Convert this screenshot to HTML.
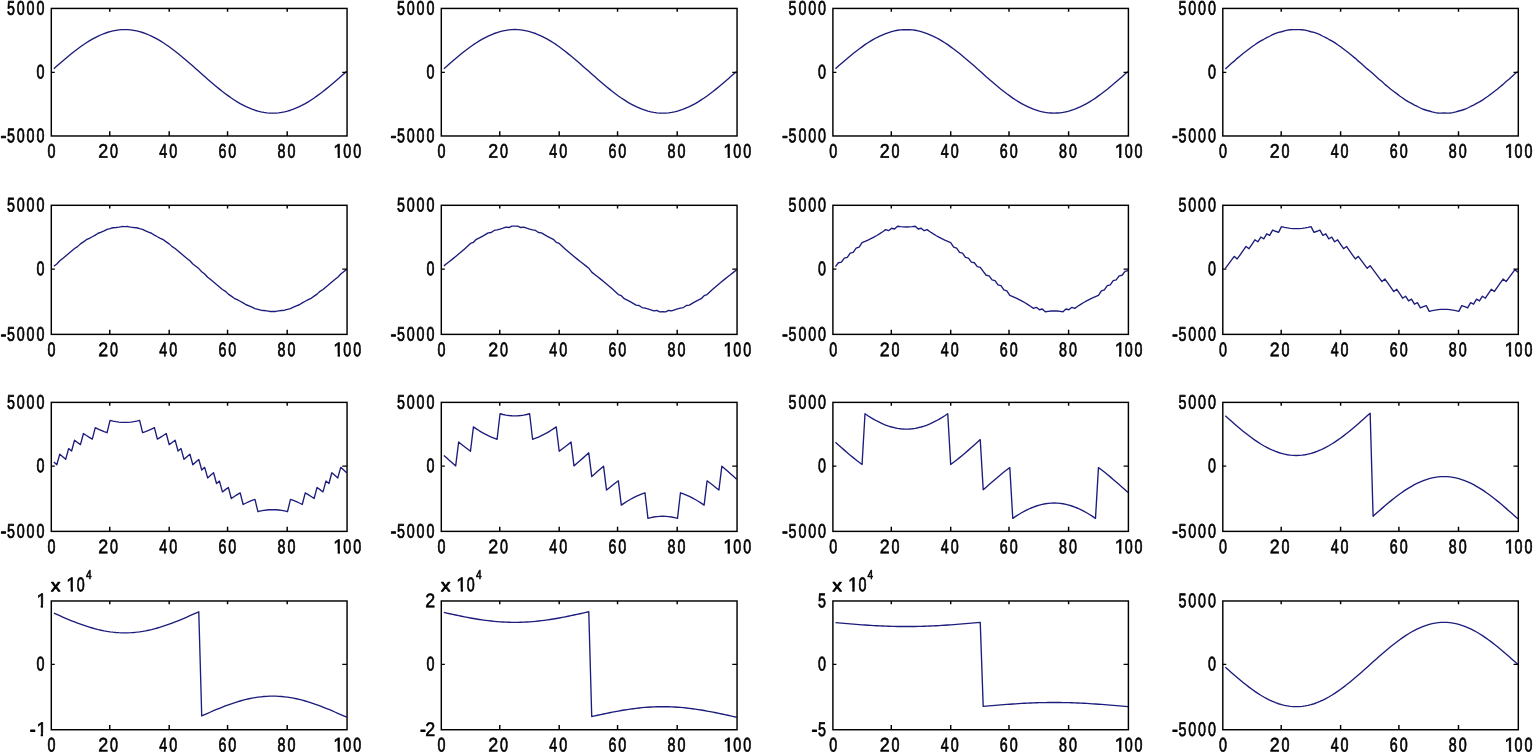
<!DOCTYPE html>
<html><head><meta charset="utf-8"><title>Subplots</title>
<style>
html,body{margin:0;padding:0;background:#fff;}
body{width:1533px;height:752px;overflow:hidden;}
svg{display:block;will-change:transform;}
svg text{font-family:"Liberation Sans",sans-serif;fill:#000;stroke:#000;stroke-width:0.62px;stroke-linejoin:round;vector-effect:non-scaling-stroke;white-space:pre;}
</style></head><body>
<svg width="1533" height="752" viewBox="0 0 1533 752">
<defs><clipPath id="c0"><path clip-rule="evenodd" d="M-9,-20H60V8H-9ZM-0.18,-2.1H4.33V1H-0.18ZM6.64,-2.1H10.7V1H6.64Z"/></clipPath><clipPath id="c1"><path clip-rule="evenodd" d="M-9,-20H60V8H-9ZM-0.18,-2.1H4.33V1H-0.18ZM6.64,-2.1H10.7V1H6.64Z"/></clipPath><clipPath id="c2"><path clip-rule="evenodd" d="M-9,-20H60V8H-9ZM6.42,-2.1H10.93V1H6.42ZM13.24,-2.1H17.3V1H13.24Z"/></clipPath><clipPath id="c3"><path clip-rule="evenodd" d="M-9,-20H60V8H-9ZM15.26,-2.1H19.77V1H15.26ZM22.08,-2.1H26.14V1H22.08Z"/></clipPath></defs>
<rect width="1533" height="752" fill="#fff"/>
<polyline fill="none" stroke="#1c1c7c" stroke-width="1.35" stroke-linejoin="round" points="53.86,68.75 56.81,66.11 59.77,63.55 62.73,60.96 65.69,58.43 68.64,55.96 71.6,53.57 74.56,51.21 77.52,48.98 80.47,46.81 83.43,44.71 86.39,42.76 89.35,40.88 92.3,39.15 95.26,37.54 98.22,36.06 101.18,34.75 104.13,33.54 107.09,32.49 110.05,31.6 113.01,30.9 115.96,30.3 118.92,29.89 121.88,29.63 124.84,29.56 127.79,29.63 130.75,29.89 133.71,30.3 136.67,30.9 139.62,31.6 142.58,32.49 145.54,33.54 148.5,34.75 151.46,36.06 154.41,37.54 157.37,39.15 160.33,40.88 163.28,42.76 166.24,44.71 169.2,46.81 172.16,48.98 175.11,51.21 178.07,53.57 181.03,55.96 183.99,58.43 186.94,60.96 189.9,63.55 192.86,66.11 195.82,68.75 198.78,71.34 201.73,73.97 204.69,76.61 207.65,79.17 210.6,81.76 213.56,84.29 216.52,86.76 219.48,89.15 222.43,91.51 225.39,93.74 228.35,95.91 231.31,98.01 234.27,99.96 237.22,101.84 240.18,103.57 243.14,105.18 246.09,106.66 249.05,107.97 252.01,109.19 254.97,110.23 257.93,111.13 260.88,111.83 263.84,112.43 266.8,112.83 269.75,113.09 272.71,113.17 275.67,113.09 278.63,112.83 281.59,112.43 284.54,111.83 287.5,111.13 290.46,110.23 293.42,109.19 296.37,107.97 299.33,106.66 302.29,105.18 305.25,103.57 308.2,101.84 311.16,99.96 314.12,98.01 317.08,95.91 320.03,93.74 322.99,91.51 325.95,89.15 328.91,86.76 331.86,84.29 334.82,81.76 337.78,79.17 340.74,76.61 343.69,73.97 346.65,71.38"/>
<rect x="51.3" y="8.43" width="295.75" height="127.55" fill="none" stroke="#000" stroke-width="1.45"/>
<path d="M109.75,135.98v-4.7M109.75,8.43v3.3M169.2,135.98v-4.7M169.2,8.43v3.3M227.55,135.98v-4.7M227.55,8.43v3.3M287.2,135.98v-4.7M287.2,8.43v3.3" stroke="#000" stroke-width="1.45" fill="none"/>
<path d="M51.3,72.36h3.5M347.05,72.36h-4.8" stroke="#000" stroke-width="1.3" fill="none"/>
<text transform="translate(47.53,157.84) scale(1,1.3827) rotate(0.03)" x="0" y="0" font-size="14.3">0</text>
<text transform="translate(98.31,157.84) scale(1,1.3827) rotate(0.03)" x="0 11.75" y="0" font-size="14.3"><tspan textLength="9.94" lengthAdjust="spacingAndGlyphs" stroke-width="0.4">2</tspan>0</text>
<text transform="translate(159.26,157.84) scale(1,1.3827) rotate(0.03)" x="0 9.95" y="0" font-size="14.3">40</text>
<text transform="translate(218.41,157.84) scale(1,1.3827) rotate(0.03)" x="0 9.95" y="0" font-size="14.3">60</text>
<text transform="translate(277.56,157.84) scale(1,1.3827) rotate(0.03)" x="0 9.95" y="0" font-size="14.3">80</text>
<text transform="translate(333.33,157.84) scale(1,1.3827) rotate(0.03)" x="0 9.95 19.9" y="0" font-size="14.3" clip-path="url(#c0)"><tspan textLength="10.34" lengthAdjust="spacingAndGlyphs" stroke-width="0.45">1</tspan>00</text>
<text transform="translate(7,14.69) scale(1,1.3827) rotate(0.03)" x="0 9.8 19.6 29.4" y="0" font-size="14.3">5000</text>
<text transform="translate(36.4,78.52) scale(1,1.3827) rotate(0.03)" x="0" y="0" font-size="14.3">0</text>
<text transform="translate(0.4,142.24) scale(1,1.3827) rotate(0.03)" x="0 6.6 16.4 26.2 36" y="0" font-size="14.3"><tspan textLength="5.95" lengthAdjust="spacingAndGlyphs">-</tspan>5000</text>
<polyline fill="none" stroke="#1c1c7c" stroke-width="1.35" stroke-linejoin="round" points="443.86,68.73 446.82,66.14 449.77,63.52 452.73,60.99 455.69,58.41 458.65,55.99 461.6,53.6 464.56,51.24 467.52,49.01 470.48,46.79 473.43,44.68 476.39,42.78 479.35,40.86 482.31,39.12 485.26,37.57 488.22,36.09 491.18,34.77 494.14,33.51 497.09,32.52 500.05,31.57 503.01,30.87 505.97,30.32 508.92,29.91 511.88,29.66 514.84,29.53 517.79,29.66 520.75,29.91 523.71,30.32 526.67,30.87 529.62,31.57 532.58,32.52 535.54,33.51 538.5,34.77 541.46,36.09 544.41,37.57 547.37,39.12 550.33,40.86 553.28,42.78 556.24,44.68 559.2,46.79 562.16,49.01 565.12,51.24 568.07,53.6 571.03,55.99 573.99,58.41 576.95,60.99 579.9,63.52 582.86,66.14 585.82,68.73 588.77,71.32 591.73,74 594.69,76.58 597.65,79.2 600.61,81.74 603.56,84.31 606.52,86.74 609.48,89.12 612.44,91.48 615.39,93.71 618.35,95.93 621.31,98.04 624.26,99.94 627.22,101.86 630.18,103.6 633.14,105.16 636.1,106.64 639.05,107.95 642.01,109.21 644.97,110.21 647.93,111.15 650.88,111.85 653.84,112.4 656.8,112.81 659.75,113.06 662.71,113.19 665.67,113.06 668.63,112.81 671.59,112.4 674.54,111.85 677.5,111.15 680.46,110.21 683.41,109.21 686.37,107.95 689.33,106.64 692.29,105.16 695.25,103.6 698.2,101.86 701.16,99.94 704.12,98.04 707.07,95.93 710.03,93.71 712.99,91.48 715.95,89.12 718.9,86.74 721.86,84.31 724.82,81.74 727.78,79.2 730.74,76.58 733.69,74 736.65,71.41"/>
<rect x="441.3" y="8.43" width="295.75" height="127.55" fill="none" stroke="#000" stroke-width="1.45"/>
<path d="M499.75,135.98v-4.7M499.75,8.43v3.3M559.2,135.98v-4.7M559.2,8.43v3.3M617.55,135.98v-4.7M617.55,8.43v3.3M677.2,135.98v-4.7M677.2,8.43v3.3" stroke="#000" stroke-width="1.45" fill="none"/>
<path d="M441.3,72.36h3.5M737.05,72.36h-4.8" stroke="#000" stroke-width="1.3" fill="none"/>
<text transform="translate(437.53,157.84) scale(1,1.3827) rotate(0.03)" x="0" y="0" font-size="14.3">0</text>
<text transform="translate(488.31,157.84) scale(1,1.3827) rotate(0.03)" x="0 11.75" y="0" font-size="14.3"><tspan textLength="9.94" lengthAdjust="spacingAndGlyphs" stroke-width="0.4">2</tspan>0</text>
<text transform="translate(549.26,157.84) scale(1,1.3827) rotate(0.03)" x="0 9.95" y="0" font-size="14.3">40</text>
<text transform="translate(608.41,157.84) scale(1,1.3827) rotate(0.03)" x="0 9.95" y="0" font-size="14.3">60</text>
<text transform="translate(667.56,157.84) scale(1,1.3827) rotate(0.03)" x="0 9.95" y="0" font-size="14.3">80</text>
<text transform="translate(723.33,157.84) scale(1,1.3827) rotate(0.03)" x="0 9.95 19.9" y="0" font-size="14.3" clip-path="url(#c0)"><tspan textLength="10.34" lengthAdjust="spacingAndGlyphs" stroke-width="0.45">1</tspan>00</text>
<text transform="translate(397,14.69) scale(1,1.3827) rotate(0.03)" x="0 9.8 19.6 29.4" y="0" font-size="14.3">5000</text>
<text transform="translate(426.4,78.52) scale(1,1.3827) rotate(0.03)" x="0" y="0" font-size="14.3">0</text>
<text transform="translate(390.4,142.24) scale(1,1.3827) rotate(0.03)" x="0 6.6 16.4 26.2 36" y="0" font-size="14.3"><tspan textLength="5.95" lengthAdjust="spacingAndGlyphs">-</tspan>5000</text>
<polyline fill="none" stroke="#1c1c7c" stroke-width="1.35" stroke-linejoin="round" points="835.46,68.78 838.41,66.09 841.37,63.57 844.32,61.04 847.27,58.46 850.23,56.04 853.19,53.55 856.14,51.19 859.1,48.96 862.05,46.84 865,44.63 867.96,42.73 870.91,40.91 873.87,39.17 876.83,37.52 879.78,36.14 882.74,34.82 885.69,33.56 888.64,32.57 891.6,31.62 894.56,30.92 897.51,30.27 900.47,29.86 903.42,29.71 906.38,29.58 909.33,29.71 912.28,29.86 915.24,30.27 918.2,30.92 921.15,31.62 924.11,32.57 927.06,33.56 930.01,34.82 932.97,36.14 935.93,37.52 938.88,39.17 941.84,40.91 944.79,42.73 947.75,44.63 950.7,46.84 953.66,48.96 956.61,51.19 959.57,53.55 962.52,56.04 965.48,58.46 968.43,61.04 971.39,63.57 974.34,66.09 977.3,68.78 980.25,71.27 983.21,73.94 986.16,76.64 989.12,79.15 992.07,81.69 995.03,84.26 997.98,86.69 1000.94,89.17 1003.89,91.53 1006.85,93.77 1009.8,95.88 1012.76,98.09 1015.71,99.99 1018.67,101.81 1021.62,103.55 1024.58,105.21 1027.53,106.58 1030.48,107.9 1033.44,109.16 1036.39,110.16 1039.35,111.1 1042.3,111.8 1045.26,112.45 1048.21,112.86 1051.17,113.01 1054.12,113.14 1057.08,113.01 1060.03,112.86 1062.99,112.45 1065.94,111.8 1068.9,111.1 1071.86,110.16 1074.81,109.16 1077.76,107.9 1080.72,106.58 1083.67,105.21 1086.63,103.55 1089.59,101.81 1092.54,99.99 1095.49,98.09 1098.45,95.88 1101.4,93.77 1104.36,91.53 1107.32,89.17 1110.27,86.69 1113.22,84.26 1116.18,81.69 1119.13,79.15 1122.09,76.64 1125.05,73.94 1128,71.46"/>
<rect x="832.9" y="8.43" width="295.5" height="127.55" fill="none" stroke="#000" stroke-width="1.45"/>
<path d="M891.3,135.98v-4.7M891.3,8.43v3.3M950.7,135.98v-4.7M950.7,8.43v3.3M1009,135.98v-4.7M1009,8.43v3.3M1068.6,135.98v-4.7M1068.6,8.43v3.3" stroke="#000" stroke-width="1.45" fill="none"/>
<path d="M832.9,72.36h3.5M1128.4,72.36h-4.8" stroke="#000" stroke-width="1.3" fill="none"/>
<text transform="translate(829.13,157.84) scale(1,1.3827) rotate(0.03)" x="0" y="0" font-size="14.3">0</text>
<text transform="translate(879.86,157.84) scale(1,1.3827) rotate(0.03)" x="0 11.75" y="0" font-size="14.3"><tspan textLength="9.94" lengthAdjust="spacingAndGlyphs" stroke-width="0.4">2</tspan>0</text>
<text transform="translate(940.76,157.84) scale(1,1.3827) rotate(0.03)" x="0 9.95" y="0" font-size="14.3">40</text>
<text transform="translate(999.86,157.84) scale(1,1.3827) rotate(0.03)" x="0 9.95" y="0" font-size="14.3">60</text>
<text transform="translate(1058.96,157.84) scale(1,1.3827) rotate(0.03)" x="0 9.95" y="0" font-size="14.3">80</text>
<text transform="translate(1114.68,157.84) scale(1,1.3827) rotate(0.03)" x="0 9.95 19.9" y="0" font-size="14.3" clip-path="url(#c0)"><tspan textLength="10.34" lengthAdjust="spacingAndGlyphs" stroke-width="0.45">1</tspan>00</text>
<text transform="translate(788.6,14.69) scale(1,1.3827) rotate(0.03)" x="0 9.8 19.6 29.4" y="0" font-size="14.3">5000</text>
<text transform="translate(818,78.52) scale(1,1.3827) rotate(0.03)" x="0" y="0" font-size="14.3">0</text>
<text transform="translate(782,142.24) scale(1,1.3827) rotate(0.03)" x="0 6.6 16.4 26.2 36" y="0" font-size="14.3"><tspan textLength="5.95" lengthAdjust="spacingAndGlyphs">-</tspan>5000</text>
<polyline fill="none" stroke="#1c1c7c" stroke-width="1.35" stroke-linejoin="round" points="1225.35,68.88 1228.31,66.19 1231.26,63.47 1234.22,61.14 1237.17,58.36 1240.13,55.93 1243.08,53.45 1246.04,51.29 1248.99,49.06 1251.95,46.74 1254.9,44.74 1257.86,42.63 1260.81,40.81 1263.77,39.28 1266.72,37.62 1269.68,36.24 1272.63,34.72 1275.59,33.46 1278.54,32.47 1281.5,31.73 1284.45,30.82 1287.41,30.17 1290.36,29.76 1293.32,29.61 1296.27,29.68 1299.23,29.61 1302.18,29.76 1305.14,30.17 1308.09,30.82 1311.05,31.73 1314,32.47 1316.96,33.46 1319.91,34.72 1322.87,36.24 1325.82,37.62 1328.78,39.28 1331.73,40.81 1334.69,42.63 1337.64,44.74 1340.6,46.74 1343.55,49.06 1346.51,51.29 1349.46,53.45 1352.42,55.93 1355.37,58.36 1358.33,61.14 1361.28,63.47 1364.24,66.19 1367.19,68.88 1370.15,71.16 1373.1,73.84 1376.06,76.53 1379.01,79.25 1381.97,81.58 1384.92,84.37 1387.88,86.79 1390.83,89.28 1393.79,91.43 1396.74,93.66 1399.7,95.98 1402.65,97.99 1405.61,100.09 1408.56,101.92 1411.52,103.45 1414.47,105.1 1417.43,106.48 1420.38,108 1423.34,109.26 1426.29,110.26 1429.25,111 1432.2,111.9 1435.16,112.55 1438.11,112.96 1441.07,113.11 1444.02,113.04 1446.98,113.11 1449.93,112.96 1452.89,112.55 1455.84,111.9 1458.8,111 1461.75,110.26 1464.71,109.26 1467.66,108 1470.62,106.48 1473.57,105.1 1476.53,103.45 1479.48,101.92 1482.44,100.09 1485.39,97.99 1488.35,95.98 1491.3,93.66 1494.26,91.43 1497.21,89.28 1500.17,86.79 1503.12,84.37 1506.08,81.58 1509.03,79.25 1511.99,76.53 1514.94,73.84 1517.9,71.56"/>
<rect x="1222.8" y="8.43" width="295.5" height="127.55" fill="none" stroke="#000" stroke-width="1.45"/>
<path d="M1281.2,135.98v-4.7M1281.2,8.43v3.3M1340.6,135.98v-4.7M1340.6,8.43v3.3M1398.9,135.98v-4.7M1398.9,8.43v3.3M1458.5,135.98v-4.7M1458.5,8.43v3.3" stroke="#000" stroke-width="1.45" fill="none"/>
<path d="M1222.8,72.36h3.5M1518.3,72.36h-4.8" stroke="#000" stroke-width="1.3" fill="none"/>
<text transform="translate(1219.03,157.84) scale(1,1.3827) rotate(0.03)" x="0" y="0" font-size="14.3">0</text>
<text transform="translate(1269.76,157.84) scale(1,1.3827) rotate(0.03)" x="0 11.75" y="0" font-size="14.3"><tspan textLength="9.94" lengthAdjust="spacingAndGlyphs" stroke-width="0.4">2</tspan>0</text>
<text transform="translate(1330.66,157.84) scale(1,1.3827) rotate(0.03)" x="0 9.95" y="0" font-size="14.3">40</text>
<text transform="translate(1389.76,157.84) scale(1,1.3827) rotate(0.03)" x="0 9.95" y="0" font-size="14.3">60</text>
<text transform="translate(1448.86,157.84) scale(1,1.3827) rotate(0.03)" x="0 9.95" y="0" font-size="14.3">80</text>
<text transform="translate(1504.58,157.84) scale(1,1.3827) rotate(0.03)" x="0 9.95 19.9" y="0" font-size="14.3" clip-path="url(#c0)"><tspan textLength="10.34" lengthAdjust="spacingAndGlyphs" stroke-width="0.45">1</tspan>00</text>
<text transform="translate(1178.5,14.69) scale(1,1.3827) rotate(0.03)" x="0 9.8 19.6 29.4" y="0" font-size="14.3">5000</text>
<text transform="translate(1207.9,78.52) scale(1,1.3827) rotate(0.03)" x="0" y="0" font-size="14.3">0</text>
<text transform="translate(1171.9,142.24) scale(1,1.3827) rotate(0.03)" x="0 6.6 16.4 26.2 36" y="0" font-size="14.3"><tspan textLength="5.95" lengthAdjust="spacingAndGlyphs">-</tspan>5000</text>
<polyline fill="none" stroke="#1c1c7c" stroke-width="1.35" stroke-linejoin="round" points="53.86,266.28 56.81,263.97 59.77,260.81 62.73,258.44 65.69,256.04 68.64,253.59 71.6,251.07 74.56,248.48 77.52,246.63 80.47,243.87 83.43,241.84 86.39,239.71 89.35,238.28 92.3,236.73 95.26,235.05 98.22,233.25 101.18,232.12 104.13,230.85 107.09,229.43 110.05,228.68 113.01,227.76 115.96,227.52 118.92,227.1 121.88,226.54 124.84,226.61 127.79,226.54 130.75,227.1 133.71,227.52 136.67,227.76 139.62,228.68 142.58,229.43 145.54,230.85 148.5,232.12 151.46,233.25 154.41,235.05 157.37,236.73 160.33,238.28 163.28,239.71 166.24,241.84 169.2,243.87 172.16,246.63 175.11,248.48 178.07,251.07 181.03,253.59 183.99,256.04 186.94,258.44 189.9,260.81 192.86,263.97 195.82,266.28 198.78,268.59 201.73,271.71 204.69,274.02 207.65,277.19 210.6,279.55 213.56,281.95 216.52,284.4 219.48,286.92 222.43,289.51 225.39,291.36 228.35,294.12 231.31,296.15 234.27,298.28 237.22,299.71 240.18,301.26 243.14,302.94 246.09,304.75 249.05,305.87 252.01,307.15 254.97,308.57 257.93,309.31 260.88,310.23 263.84,310.48 266.8,310.89 269.75,311.46 272.71,311.38 275.67,311.46 278.63,310.89 281.59,310.48 284.54,310.23 287.5,309.31 290.46,308.57 293.42,307.15 296.37,305.87 299.33,304.75 302.29,302.94 305.25,301.26 308.2,299.71 311.16,298.28 314.12,296.15 317.08,294.12 320.03,291.36 322.99,289.51 325.95,286.92 328.91,284.4 331.86,281.95 334.82,279.55 337.78,277.19 340.74,274.02 343.69,271.71 346.65,269.4"/>
<rect x="51.3" y="205.3" width="295.75" height="129.08" fill="none" stroke="#000" stroke-width="1.45"/>
<path d="M109.75,334.38v-4.7M109.75,205.3v3.3M169.2,334.38v-4.7M169.2,205.3v3.3M227.55,334.38v-4.7M227.55,205.3v3.3M287.2,334.38v-4.7M287.2,205.3v3.3" stroke="#000" stroke-width="1.45" fill="none"/>
<path d="M51.3,269.14h3.5M347.05,269.14h-4.8" stroke="#000" stroke-width="1.3" fill="none"/>
<text transform="translate(47.53,356.24) scale(1,1.3827) rotate(0.03)" x="0" y="0" font-size="14.3">0</text>
<text transform="translate(98.31,356.24) scale(1,1.3827) rotate(0.03)" x="0 11.75" y="0" font-size="14.3"><tspan textLength="9.94" lengthAdjust="spacingAndGlyphs" stroke-width="0.4">2</tspan>0</text>
<text transform="translate(159.26,356.24) scale(1,1.3827) rotate(0.03)" x="0 9.95" y="0" font-size="14.3">40</text>
<text transform="translate(218.41,356.24) scale(1,1.3827) rotate(0.03)" x="0 9.95" y="0" font-size="14.3">60</text>
<text transform="translate(277.56,356.24) scale(1,1.3827) rotate(0.03)" x="0 9.95" y="0" font-size="14.3">80</text>
<text transform="translate(333.33,356.24) scale(1,1.3827) rotate(0.03)" x="0 9.95 19.9" y="0" font-size="14.3" clip-path="url(#c0)"><tspan textLength="10.34" lengthAdjust="spacingAndGlyphs" stroke-width="0.45">1</tspan>00</text>
<text transform="translate(7,211.56) scale(1,1.3827) rotate(0.03)" x="0 9.8 19.6 29.4" y="0" font-size="14.3">5000</text>
<text transform="translate(36.4,275.3) scale(1,1.3827) rotate(0.03)" x="0" y="0" font-size="14.3">0</text>
<text transform="translate(0.4,340.64) scale(1,1.3827) rotate(0.03)" x="0 6.6 16.4 26.2 36" y="0" font-size="14.3"><tspan textLength="5.95" lengthAdjust="spacingAndGlyphs">-</tspan>5000</text>
<polyline fill="none" stroke="#1c1c7c" stroke-width="1.35" stroke-linejoin="round" points="443.86,265.87 446.82,263.56 449.77,261.22 452.73,258.86 455.69,256.46 458.65,254 461.6,251.49 464.56,248.89 467.52,246.22 470.48,243.46 473.43,242.26 476.39,239.3 479.35,237.87 482.31,236.32 485.26,234.64 488.22,232.83 491.18,232.54 494.14,230.43 497.09,229.84 500.05,229.09 503.01,228.17 505.97,227.1 508.92,227.52 511.88,226.12 514.84,226.2 517.79,226.12 520.75,227.52 523.71,227.1 526.67,228.17 529.62,229.09 532.58,229.84 535.54,230.43 538.5,232.54 541.46,232.83 544.41,234.64 547.37,236.32 550.33,237.87 553.28,239.3 556.24,242.26 559.2,243.46 562.16,246.22 565.12,248.89 568.07,251.49 571.03,254 573.99,256.46 576.95,258.86 579.9,261.22 582.86,263.56 585.82,265.87 588.77,268.18 591.73,272.13 594.69,274.44 597.65,276.77 600.61,279.14 603.56,281.54 606.52,283.99 609.48,286.51 612.44,289.1 615.39,291.77 618.35,294.53 621.31,295.74 624.26,298.69 627.22,300.12 630.18,301.67 633.14,303.35 636.1,305.16 639.05,305.46 642.01,307.56 644.97,308.15 647.93,308.9 650.88,309.82 653.84,310.89 656.8,310.48 659.75,311.87 662.71,311.79 665.67,311.87 668.63,310.48 671.59,310.89 674.54,309.82 677.5,308.9 680.46,308.15 683.41,307.56 686.37,305.46 689.33,305.16 692.29,303.35 695.25,301.67 698.2,300.12 701.16,298.69 704.12,295.74 707.07,294.53 710.03,291.77 712.99,289.1 715.95,286.51 718.9,283.99 721.86,281.54 724.82,279.14 727.78,276.77 730.74,274.44 733.69,272.13 736.65,269.82"/>
<rect x="441.3" y="205.3" width="295.75" height="129.08" fill="none" stroke="#000" stroke-width="1.45"/>
<path d="M499.75,334.38v-4.7M499.75,205.3v3.3M559.2,334.38v-4.7M559.2,205.3v3.3M617.55,334.38v-4.7M617.55,205.3v3.3M677.2,334.38v-4.7M677.2,205.3v3.3" stroke="#000" stroke-width="1.45" fill="none"/>
<path d="M441.3,269.14h3.5M737.05,269.14h-4.8" stroke="#000" stroke-width="1.3" fill="none"/>
<text transform="translate(437.53,356.24) scale(1,1.3827) rotate(0.03)" x="0" y="0" font-size="14.3">0</text>
<text transform="translate(488.31,356.24) scale(1,1.3827) rotate(0.03)" x="0 11.75" y="0" font-size="14.3"><tspan textLength="9.94" lengthAdjust="spacingAndGlyphs" stroke-width="0.4">2</tspan>0</text>
<text transform="translate(549.26,356.24) scale(1,1.3827) rotate(0.03)" x="0 9.95" y="0" font-size="14.3">40</text>
<text transform="translate(608.41,356.24) scale(1,1.3827) rotate(0.03)" x="0 9.95" y="0" font-size="14.3">60</text>
<text transform="translate(667.56,356.24) scale(1,1.3827) rotate(0.03)" x="0 9.95" y="0" font-size="14.3">80</text>
<text transform="translate(723.33,356.24) scale(1,1.3827) rotate(0.03)" x="0 9.95 19.9" y="0" font-size="14.3" clip-path="url(#c0)"><tspan textLength="10.34" lengthAdjust="spacingAndGlyphs" stroke-width="0.45">1</tspan>00</text>
<text transform="translate(397,211.56) scale(1,1.3827) rotate(0.03)" x="0 9.8 19.6 29.4" y="0" font-size="14.3">5000</text>
<text transform="translate(426.4,275.3) scale(1,1.3827) rotate(0.03)" x="0" y="0" font-size="14.3">0</text>
<text transform="translate(390.4,340.64) scale(1,1.3827) rotate(0.03)" x="0 6.6 16.4 26.2 36" y="0" font-size="14.3"><tspan textLength="5.95" lengthAdjust="spacingAndGlyphs">-</tspan>5000</text>
<polyline fill="none" stroke="#1c1c7c" stroke-width="1.35" stroke-linejoin="round" points="835.46,266.69 838.41,262.73 841.37,262.05 844.32,258.03 847.27,257.28 850.23,253.18 853.19,252.31 856.14,248.07 859.1,247.05 862.05,242.63 865,241.43 867.96,240.13 870.91,238.69 873.87,237.15 876.83,235.47 879.78,233.66 882.74,231.71 885.69,229.61 888.64,230.67 891.6,228.27 894.56,229 897.51,226.28 900.47,226.69 903.42,226.95 906.38,227.03 909.33,226.95 912.28,226.69 915.24,226.28 918.2,229 921.15,228.27 924.11,230.67 927.06,229.61 930.01,231.71 932.97,233.66 935.93,235.47 938.88,237.15 941.84,238.69 944.79,240.13 947.75,241.43 950.7,242.63 953.66,247.05 956.61,248.07 959.57,252.31 962.52,253.18 965.48,257.28 968.43,258.03 971.39,262.05 974.34,262.73 977.3,266.69 980.25,267.35 983.21,271.3 986.16,275.26 989.12,275.95 992.07,279.96 995.03,280.71 997.98,284.82 1000.94,285.68 1003.89,289.93 1006.85,290.95 1009.8,295.36 1012.76,296.56 1015.71,297.87 1018.67,299.3 1021.62,300.85 1024.58,302.52 1027.53,304.33 1030.48,306.28 1033.44,308.39 1036.39,307.33 1039.35,309.73 1042.3,308.99 1045.26,311.72 1048.21,311.3 1051.17,311.04 1054.12,310.97 1057.08,311.04 1060.03,311.3 1062.99,311.72 1065.94,308.99 1068.9,309.73 1071.86,307.33 1074.81,308.39 1077.76,306.28 1080.72,304.33 1083.67,302.52 1086.63,300.85 1089.59,299.3 1092.54,297.87 1095.49,296.56 1098.45,295.36 1101.4,290.95 1104.36,289.93 1107.32,285.68 1110.27,284.82 1113.22,280.71 1116.18,279.96 1119.13,275.95 1122.09,275.26 1125.05,271.3 1128,270.64"/>
<rect x="832.9" y="205.3" width="295.5" height="129.08" fill="none" stroke="#000" stroke-width="1.45"/>
<path d="M891.3,334.38v-4.7M891.3,205.3v3.3M950.7,334.38v-4.7M950.7,205.3v3.3M1009,334.38v-4.7M1009,205.3v3.3M1068.6,334.38v-4.7M1068.6,205.3v3.3" stroke="#000" stroke-width="1.45" fill="none"/>
<path d="M832.9,269.14h3.5M1128.4,269.14h-4.8" stroke="#000" stroke-width="1.3" fill="none"/>
<text transform="translate(829.13,356.24) scale(1,1.3827) rotate(0.03)" x="0" y="0" font-size="14.3">0</text>
<text transform="translate(879.86,356.24) scale(1,1.3827) rotate(0.03)" x="0 11.75" y="0" font-size="14.3"><tspan textLength="9.94" lengthAdjust="spacingAndGlyphs" stroke-width="0.4">2</tspan>0</text>
<text transform="translate(940.76,356.24) scale(1,1.3827) rotate(0.03)" x="0 9.95" y="0" font-size="14.3">40</text>
<text transform="translate(999.86,356.24) scale(1,1.3827) rotate(0.03)" x="0 9.95" y="0" font-size="14.3">60</text>
<text transform="translate(1058.96,356.24) scale(1,1.3827) rotate(0.03)" x="0 9.95" y="0" font-size="14.3">80</text>
<text transform="translate(1114.68,356.24) scale(1,1.3827) rotate(0.03)" x="0 9.95 19.9" y="0" font-size="14.3" clip-path="url(#c0)"><tspan textLength="10.34" lengthAdjust="spacingAndGlyphs" stroke-width="0.45">1</tspan>00</text>
<text transform="translate(788.6,211.56) scale(1,1.3827) rotate(0.03)" x="0 9.8 19.6 29.4" y="0" font-size="14.3">5000</text>
<text transform="translate(818,275.3) scale(1,1.3827) rotate(0.03)" x="0" y="0" font-size="14.3">0</text>
<text transform="translate(782,340.64) scale(1,1.3827) rotate(0.03)" x="0 6.6 16.4 26.2 36" y="0" font-size="14.3"><tspan textLength="5.95" lengthAdjust="spacingAndGlyphs">-</tspan>5000</text>
<polyline fill="none" stroke="#1c1c7c" stroke-width="1.35" stroke-linejoin="round" points="1225.35,268.34 1228.31,264.38 1231.26,260.39 1234.22,256.38 1237.17,258.93 1240.13,254.83 1243.08,250.66 1246.04,246.41 1248.99,248.7 1251.95,244.28 1254.9,239.78 1257.86,241.78 1260.81,237.04 1263.77,238.8 1266.72,233.82 1269.68,235.31 1272.63,230.06 1275.59,231.26 1278.54,232.32 1281.5,226.61 1284.45,227.35 1287.41,227.93 1290.36,228.34 1293.32,228.6 1296.27,228.68 1299.23,228.6 1302.18,228.34 1305.14,227.93 1308.09,227.35 1311.05,226.61 1314,232.32 1316.96,231.26 1319.91,230.06 1322.87,235.31 1325.82,233.82 1328.78,238.8 1331.73,237.04 1334.69,241.78 1337.64,239.78 1340.6,244.28 1343.55,248.7 1346.51,246.41 1349.46,250.66 1352.42,254.83 1355.37,258.93 1358.33,256.38 1361.28,260.39 1364.24,264.38 1367.19,268.34 1370.15,265.7 1373.1,269.65 1376.06,273.61 1379.01,277.6 1381.97,281.61 1384.92,279.06 1387.88,283.16 1390.83,287.33 1393.79,291.58 1396.74,289.29 1399.7,293.71 1402.65,298.21 1405.61,296.21 1408.56,300.95 1411.52,299.19 1414.47,304.18 1417.43,302.68 1420.38,307.93 1423.34,306.73 1426.29,305.67 1429.25,311.38 1432.2,310.64 1435.16,310.06 1438.11,309.65 1441.07,309.39 1444.02,309.31 1446.98,309.39 1449.93,309.65 1452.89,310.06 1455.84,310.64 1458.8,311.38 1461.75,305.67 1464.71,306.73 1467.66,307.93 1470.62,302.68 1473.57,304.18 1476.53,299.19 1479.48,300.95 1482.44,296.21 1485.39,298.21 1488.35,293.71 1491.3,289.29 1494.26,291.58 1497.21,287.33 1500.17,283.16 1503.12,279.06 1506.08,281.61 1509.03,277.6 1511.99,273.61 1514.94,269.65 1517.9,272.29"/>
<rect x="1222.8" y="205.3" width="295.5" height="129.08" fill="none" stroke="#000" stroke-width="1.45"/>
<path d="M1281.2,334.38v-4.7M1281.2,205.3v3.3M1340.6,334.38v-4.7M1340.6,205.3v3.3M1398.9,334.38v-4.7M1398.9,205.3v3.3M1458.5,334.38v-4.7M1458.5,205.3v3.3" stroke="#000" stroke-width="1.45" fill="none"/>
<path d="M1222.8,269.14h3.5M1518.3,269.14h-4.8" stroke="#000" stroke-width="1.3" fill="none"/>
<text transform="translate(1219.03,356.24) scale(1,1.3827) rotate(0.03)" x="0" y="0" font-size="14.3">0</text>
<text transform="translate(1269.76,356.24) scale(1,1.3827) rotate(0.03)" x="0 11.75" y="0" font-size="14.3"><tspan textLength="9.94" lengthAdjust="spacingAndGlyphs" stroke-width="0.4">2</tspan>0</text>
<text transform="translate(1330.66,356.24) scale(1,1.3827) rotate(0.03)" x="0 9.95" y="0" font-size="14.3">40</text>
<text transform="translate(1389.76,356.24) scale(1,1.3827) rotate(0.03)" x="0 9.95" y="0" font-size="14.3">60</text>
<text transform="translate(1448.86,356.24) scale(1,1.3827) rotate(0.03)" x="0 9.95" y="0" font-size="14.3">80</text>
<text transform="translate(1504.58,356.24) scale(1,1.3827) rotate(0.03)" x="0 9.95 19.9" y="0" font-size="14.3" clip-path="url(#c0)"><tspan textLength="10.34" lengthAdjust="spacingAndGlyphs" stroke-width="0.45">1</tspan>00</text>
<text transform="translate(1178.5,211.56) scale(1,1.3827) rotate(0.03)" x="0 9.8 19.6 29.4" y="0" font-size="14.3">5000</text>
<text transform="translate(1207.9,275.3) scale(1,1.3827) rotate(0.03)" x="0" y="0" font-size="14.3">0</text>
<text transform="translate(1171.9,340.64) scale(1,1.3827) rotate(0.03)" x="0 6.6 16.4 26.2 36" y="0" font-size="14.3"><tspan textLength="5.95" lengthAdjust="spacingAndGlyphs">-</tspan>5000</text>
<polyline fill="none" stroke="#1c1c7c" stroke-width="1.35" stroke-linejoin="round" points="53.86,462.08 56.81,464.73 59.77,454.14 62.73,456.73 65.69,459.28 68.64,448.58 71.6,451.01 74.56,440.17 77.52,442.45 80.47,444.64 83.43,433.53 86.39,435.53 89.35,437.4 92.3,439.16 95.26,427.58 98.22,429.07 101.18,430.43 104.13,431.63 107.09,432.68 110.05,420.38 113.01,421.11 115.96,421.69 118.92,422.11 121.88,422.36 124.84,422.44 127.79,422.36 130.75,422.11 133.71,421.69 136.67,421.11 139.62,420.38 142.58,432.68 145.54,431.63 148.5,430.43 151.46,429.07 154.41,427.58 157.37,439.16 160.33,437.4 163.28,435.53 166.24,433.53 169.2,444.64 172.16,442.45 175.11,440.17 178.07,451.01 181.03,448.58 183.99,459.28 186.94,456.73 189.9,454.14 192.86,464.73 195.82,462.08 198.78,459.44 201.73,469.99 204.69,467.35 207.65,477.94 210.6,475.34 213.56,472.79 216.52,483.5 219.48,481.06 222.43,491.91 225.39,489.62 228.35,487.43 231.31,498.54 234.27,496.54 237.22,494.67 240.18,492.91 243.14,504.5 246.09,503 249.05,501.65 252.01,500.45 254.97,499.39 257.93,511.7 260.88,510.96 263.84,510.38 266.8,509.97 269.75,509.71 272.71,509.63 275.67,509.71 278.63,509.97 281.59,510.38 284.54,510.96 287.5,511.7 290.46,499.39 293.42,500.45 296.37,501.65 299.33,503 302.29,504.5 305.25,492.91 308.2,494.67 311.16,496.54 314.12,498.54 317.08,487.43 320.03,489.62 322.99,491.91 325.95,481.06 328.91,483.5 331.86,472.79 334.82,475.34 337.78,477.94 340.74,467.35 343.69,469.99 346.65,472.63"/>
<rect x="51.3" y="402.38" width="295.75" height="129" fill="none" stroke="#000" stroke-width="1.45"/>
<path d="M109.75,531.38v-4.7M109.75,402.38v3.3M169.2,531.38v-4.7M169.2,402.38v3.3M227.55,531.38v-4.7M227.55,402.38v3.3M287.2,531.38v-4.7M287.2,402.38v3.3" stroke="#000" stroke-width="1.45" fill="none"/>
<path d="M51.3,466.18h3.5M347.05,466.18h-4.8" stroke="#000" stroke-width="1.3" fill="none"/>
<text transform="translate(47.53,553.24) scale(1,1.3827) rotate(0.03)" x="0" y="0" font-size="14.3">0</text>
<text transform="translate(98.31,553.24) scale(1,1.3827) rotate(0.03)" x="0 11.75" y="0" font-size="14.3"><tspan textLength="9.94" lengthAdjust="spacingAndGlyphs" stroke-width="0.4">2</tspan>0</text>
<text transform="translate(159.26,553.24) scale(1,1.3827) rotate(0.03)" x="0 9.95" y="0" font-size="14.3">40</text>
<text transform="translate(218.41,553.24) scale(1,1.3827) rotate(0.03)" x="0 9.95" y="0" font-size="14.3">60</text>
<text transform="translate(277.56,553.24) scale(1,1.3827) rotate(0.03)" x="0 9.95" y="0" font-size="14.3">80</text>
<text transform="translate(333.33,553.24) scale(1,1.3827) rotate(0.03)" x="0 9.95 19.9" y="0" font-size="14.3" clip-path="url(#c0)"><tspan textLength="10.34" lengthAdjust="spacingAndGlyphs" stroke-width="0.45">1</tspan>00</text>
<text transform="translate(7,408.64) scale(1,1.3827) rotate(0.03)" x="0 9.8 19.6 29.4" y="0" font-size="14.3">5000</text>
<text transform="translate(36.4,472.34) scale(1,1.3827) rotate(0.03)" x="0" y="0" font-size="14.3">0</text>
<text transform="translate(0.4,537.64) scale(1,1.3827) rotate(0.03)" x="0 6.6 16.4 26.2 36" y="0" font-size="14.3"><tspan textLength="5.95" lengthAdjust="spacingAndGlyphs">-</tspan>5000</text>
<polyline fill="none" stroke="#1c1c7c" stroke-width="1.35" stroke-linejoin="round" points="443.86,455.48 446.82,458.12 449.77,460.74 452.73,463.33 455.69,465.89 458.65,441.97 461.6,444.41 464.56,446.77 467.52,449.05 470.48,451.25 473.43,426.93 476.39,428.93 479.35,430.8 482.31,432.55 485.26,434.18 488.22,435.68 491.18,437.03 494.14,438.23 497.09,439.29 500.05,413.77 503.01,414.51 505.97,415.09 508.92,415.5 511.88,415.76 514.84,415.84 517.79,415.76 520.75,415.5 523.71,415.09 526.67,414.51 529.62,413.77 532.58,439.29 535.54,438.23 538.5,437.03 541.46,435.68 544.41,434.18 547.37,432.55 550.33,430.8 553.28,428.93 556.24,426.93 559.2,451.25 562.16,449.05 565.12,446.77 568.07,444.41 571.03,441.97 573.99,465.89 576.95,463.33 579.9,460.74 582.86,458.12 585.82,455.48 588.77,452.83 591.73,476.6 594.69,473.95 597.65,471.33 600.61,468.74 603.56,466.18 606.52,490.1 609.48,487.66 612.44,485.3 615.39,483.02 618.35,480.83 621.31,505.14 624.26,503.14 627.22,501.27 630.18,499.52 633.14,497.89 636.1,496.4 639.05,495.04 642.01,493.84 644.97,492.78 647.93,518.3 650.88,517.57 653.84,516.99 656.8,516.57 659.75,516.31 662.71,516.24 665.67,516.31 668.63,516.57 671.59,516.99 674.54,517.57 677.5,518.3 680.46,492.78 683.41,493.84 686.37,495.04 689.33,496.4 692.29,497.89 695.25,499.52 698.2,501.27 701.16,503.14 704.12,505.14 707.07,480.83 710.03,483.02 712.99,485.3 715.95,487.66 718.9,490.1 721.86,466.18 724.82,468.74 727.78,471.33 730.74,473.95 733.69,476.6 736.65,479.24"/>
<rect x="441.3" y="402.38" width="295.75" height="129" fill="none" stroke="#000" stroke-width="1.45"/>
<path d="M499.75,531.38v-4.7M499.75,402.38v3.3M559.2,531.38v-4.7M559.2,402.38v3.3M617.55,531.38v-4.7M617.55,402.38v3.3M677.2,531.38v-4.7M677.2,402.38v3.3" stroke="#000" stroke-width="1.45" fill="none"/>
<path d="M441.3,466.18h3.5M737.05,466.18h-4.8" stroke="#000" stroke-width="1.3" fill="none"/>
<text transform="translate(437.53,553.24) scale(1,1.3827) rotate(0.03)" x="0" y="0" font-size="14.3">0</text>
<text transform="translate(488.31,553.24) scale(1,1.3827) rotate(0.03)" x="0 11.75" y="0" font-size="14.3"><tspan textLength="9.94" lengthAdjust="spacingAndGlyphs" stroke-width="0.4">2</tspan>0</text>
<text transform="translate(549.26,553.24) scale(1,1.3827) rotate(0.03)" x="0 9.95" y="0" font-size="14.3">40</text>
<text transform="translate(608.41,553.24) scale(1,1.3827) rotate(0.03)" x="0 9.95" y="0" font-size="14.3">60</text>
<text transform="translate(667.56,553.24) scale(1,1.3827) rotate(0.03)" x="0 9.95" y="0" font-size="14.3">80</text>
<text transform="translate(723.33,553.24) scale(1,1.3827) rotate(0.03)" x="0 9.95 19.9" y="0" font-size="14.3" clip-path="url(#c0)"><tspan textLength="10.34" lengthAdjust="spacingAndGlyphs" stroke-width="0.45">1</tspan>00</text>
<text transform="translate(397,408.64) scale(1,1.3827) rotate(0.03)" x="0 9.8 19.6 29.4" y="0" font-size="14.3">5000</text>
<text transform="translate(426.4,472.34) scale(1,1.3827) rotate(0.03)" x="0" y="0" font-size="14.3">0</text>
<text transform="translate(390.4,537.64) scale(1,1.3827) rotate(0.03)" x="0 6.6 16.4 26.2 36" y="0" font-size="14.3"><tspan textLength="5.95" lengthAdjust="spacingAndGlyphs">-</tspan>5000</text>
<polyline fill="none" stroke="#1c1c7c" stroke-width="1.35" stroke-linejoin="round" points="835.46,442.27 838.41,444.91 841.37,447.53 844.32,450.12 847.27,452.68 850.23,455.18 853.19,457.62 856.14,459.98 859.1,462.26 862.05,464.46 865,413.72 867.96,415.72 870.91,417.59 873.87,419.34 876.83,420.97 879.78,422.47 882.74,423.82 885.69,425.02 888.64,426.08 891.6,426.98 894.56,427.72 897.51,428.3 900.47,428.71 903.42,428.97 906.38,429.05 909.33,428.97 912.28,428.71 915.24,428.3 918.2,427.72 921.15,426.98 924.11,426.08 927.06,425.02 930.01,423.82 932.97,422.47 935.93,420.97 938.88,419.34 941.84,417.59 944.79,415.72 947.75,413.72 950.7,464.46 953.66,462.26 956.61,459.98 959.57,457.62 962.52,455.18 965.48,452.68 968.43,450.12 971.39,447.53 974.34,444.91 977.3,442.27 980.25,439.62 983.21,489.8 986.16,487.16 989.12,484.54 992.07,481.95 995.03,479.39 997.98,476.89 1000.94,474.45 1003.89,472.09 1006.85,469.81 1009.8,467.62 1012.76,518.35 1015.71,516.35 1018.67,514.48 1021.62,512.73 1024.58,511.1 1027.53,509.61 1030.48,508.25 1033.44,507.05 1036.39,505.99 1039.35,505.09 1042.3,504.36 1045.26,503.78 1048.21,503.36 1051.17,503.1 1054.12,503.03 1057.08,503.1 1060.03,503.36 1062.99,503.78 1065.94,504.36 1068.9,505.09 1071.86,505.99 1074.81,507.05 1077.76,508.25 1080.72,509.61 1083.67,511.1 1086.63,512.73 1089.59,514.48 1092.54,516.35 1095.49,518.35 1098.45,467.62 1101.4,469.81 1104.36,472.09 1107.32,474.45 1110.27,476.89 1113.22,479.39 1116.18,481.95 1119.13,484.54 1122.09,487.16 1125.05,489.8 1128,492.45"/>
<rect x="832.9" y="402.38" width="295.5" height="129" fill="none" stroke="#000" stroke-width="1.45"/>
<path d="M891.3,531.38v-4.7M891.3,402.38v3.3M950.7,531.38v-4.7M950.7,402.38v3.3M1009,531.38v-4.7M1009,402.38v3.3M1068.6,531.38v-4.7M1068.6,402.38v3.3" stroke="#000" stroke-width="1.45" fill="none"/>
<path d="M832.9,466.18h3.5M1128.4,466.18h-4.8" stroke="#000" stroke-width="1.3" fill="none"/>
<text transform="translate(829.13,553.24) scale(1,1.3827) rotate(0.03)" x="0" y="0" font-size="14.3">0</text>
<text transform="translate(879.86,553.24) scale(1,1.3827) rotate(0.03)" x="0 11.75" y="0" font-size="14.3"><tspan textLength="9.94" lengthAdjust="spacingAndGlyphs" stroke-width="0.4">2</tspan>0</text>
<text transform="translate(940.76,553.24) scale(1,1.3827) rotate(0.03)" x="0 9.95" y="0" font-size="14.3">40</text>
<text transform="translate(999.86,553.24) scale(1,1.3827) rotate(0.03)" x="0 9.95" y="0" font-size="14.3">60</text>
<text transform="translate(1058.96,553.24) scale(1,1.3827) rotate(0.03)" x="0 9.95" y="0" font-size="14.3">80</text>
<text transform="translate(1114.68,553.24) scale(1,1.3827) rotate(0.03)" x="0 9.95 19.9" y="0" font-size="14.3" clip-path="url(#c0)"><tspan textLength="10.34" lengthAdjust="spacingAndGlyphs" stroke-width="0.45">1</tspan>00</text>
<text transform="translate(788.6,408.64) scale(1,1.3827) rotate(0.03)" x="0 9.8 19.6 29.4" y="0" font-size="14.3">5000</text>
<text transform="translate(818,472.34) scale(1,1.3827) rotate(0.03)" x="0" y="0" font-size="14.3">0</text>
<text transform="translate(782,537.64) scale(1,1.3827) rotate(0.03)" x="0 6.6 16.4 26.2 36" y="0" font-size="14.3"><tspan textLength="5.95" lengthAdjust="spacingAndGlyphs">-</tspan>5000</text>
<polyline fill="none" stroke="#1c1c7c" stroke-width="1.35" stroke-linejoin="round" points="1225.35,415.85 1228.31,418.49 1231.26,421.11 1234.22,423.71 1237.17,426.26 1240.13,428.76 1243.08,431.2 1246.04,433.56 1248.99,435.84 1251.95,438.04 1254.9,440.14 1257.86,442.14 1260.81,444.01 1263.77,445.76 1266.72,447.39 1269.68,448.89 1272.63,450.24 1275.59,451.44 1278.54,452.5 1281.5,453.4 1284.45,454.14 1287.41,454.72 1290.36,455.13 1293.32,455.39 1296.27,455.46 1299.23,455.39 1302.18,455.13 1305.14,454.72 1308.09,454.14 1311.05,453.4 1314,452.5 1316.96,451.44 1319.91,450.24 1322.87,448.89 1325.82,447.39 1328.78,445.76 1331.73,444.01 1334.69,442.14 1337.64,440.14 1340.6,438.04 1343.55,435.84 1346.51,433.56 1349.46,431.2 1352.42,428.76 1355.37,426.26 1358.33,423.71 1361.28,421.11 1364.24,418.49 1367.19,415.85 1370.15,413.2 1373.1,516.22 1376.06,513.58 1379.01,510.96 1381.97,508.37 1384.92,505.81 1387.88,503.31 1390.83,500.87 1393.79,498.51 1396.74,496.23 1399.7,494.04 1402.65,491.93 1405.61,489.93 1408.56,488.06 1411.52,486.31 1414.47,484.68 1417.43,483.19 1420.38,481.83 1423.34,480.63 1426.29,479.57 1429.25,478.67 1432.2,477.94 1435.16,477.36 1438.11,476.94 1441.07,476.69 1444.02,476.61 1446.98,476.69 1449.93,476.94 1452.89,477.36 1455.84,477.94 1458.8,478.67 1461.75,479.57 1464.71,480.63 1467.66,481.83 1470.62,483.19 1473.57,484.68 1476.53,486.31 1479.48,488.06 1482.44,489.93 1485.39,491.93 1488.35,494.04 1491.3,496.23 1494.26,498.51 1497.21,500.87 1500.17,503.31 1503.12,505.81 1506.08,508.37 1509.03,510.96 1511.99,513.58 1514.94,516.22 1517.9,518.87"/>
<rect x="1222.8" y="402.38" width="295.5" height="129" fill="none" stroke="#000" stroke-width="1.45"/>
<path d="M1281.2,531.38v-4.7M1281.2,402.38v3.3M1340.6,531.38v-4.7M1340.6,402.38v3.3M1398.9,531.38v-4.7M1398.9,402.38v3.3M1458.5,531.38v-4.7M1458.5,402.38v3.3" stroke="#000" stroke-width="1.45" fill="none"/>
<path d="M1222.8,466.18h3.5M1518.3,466.18h-4.8" stroke="#000" stroke-width="1.3" fill="none"/>
<text transform="translate(1219.03,553.24) scale(1,1.3827) rotate(0.03)" x="0" y="0" font-size="14.3">0</text>
<text transform="translate(1269.76,553.24) scale(1,1.3827) rotate(0.03)" x="0 11.75" y="0" font-size="14.3"><tspan textLength="9.94" lengthAdjust="spacingAndGlyphs" stroke-width="0.4">2</tspan>0</text>
<text transform="translate(1330.66,553.24) scale(1,1.3827) rotate(0.03)" x="0 9.95" y="0" font-size="14.3">40</text>
<text transform="translate(1389.76,553.24) scale(1,1.3827) rotate(0.03)" x="0 9.95" y="0" font-size="14.3">60</text>
<text transform="translate(1448.86,553.24) scale(1,1.3827) rotate(0.03)" x="0 9.95" y="0" font-size="14.3">80</text>
<text transform="translate(1504.58,553.24) scale(1,1.3827) rotate(0.03)" x="0 9.95 19.9" y="0" font-size="14.3" clip-path="url(#c0)"><tspan textLength="10.34" lengthAdjust="spacingAndGlyphs" stroke-width="0.45">1</tspan>00</text>
<text transform="translate(1178.5,408.64) scale(1,1.3827) rotate(0.03)" x="0 9.8 19.6 29.4" y="0" font-size="14.3">5000</text>
<text transform="translate(1207.9,472.34) scale(1,1.3827) rotate(0.03)" x="0" y="0" font-size="14.3">0</text>
<text transform="translate(1171.9,537.64) scale(1,1.3827) rotate(0.03)" x="0 6.6 16.4 26.2 36" y="0" font-size="14.3"><tspan textLength="5.95" lengthAdjust="spacingAndGlyphs">-</tspan>5000</text>
<polyline fill="none" stroke="#1c1c7c" stroke-width="1.35" stroke-linejoin="round" points="53.86,613.1 56.81,614.41 59.77,615.72 62.73,617.02 65.69,618.29 68.64,619.54 71.6,620.76 74.56,621.93 77.52,623.07 80.47,624.17 83.43,625.22 86.39,626.21 89.35,627.15 92.3,628.02 95.26,628.83 98.22,629.58 101.18,630.26 104.13,630.86 107.09,631.38 110.05,631.83 113.01,632.2 115.96,632.49 118.92,632.7 121.88,632.83 124.84,632.86 127.79,632.83 130.75,632.7 133.71,632.49 136.67,632.2 139.62,631.83 142.58,631.38 145.54,630.86 148.5,630.26 151.46,629.58 154.41,628.83 157.37,628.02 160.33,627.15 163.28,626.21 166.24,625.22 169.2,624.17 172.16,623.07 175.11,621.93 178.07,620.76 181.03,619.54 183.99,618.29 186.94,617.02 189.9,615.72 192.86,614.41 195.82,613.1 198.78,611.78 201.73,715.92 204.69,714.6 207.65,713.29 210.6,712 213.56,710.73 216.52,709.48 219.48,708.26 222.43,707.08 225.39,705.94 228.35,704.85 231.31,703.8 234.27,702.8 237.22,701.87 240.18,700.99 243.14,700.18 246.09,699.43 249.05,698.76 252.01,698.16 254.97,697.63 257.93,697.18 260.88,696.81 263.84,696.53 266.8,696.32 269.75,696.19 272.71,696.15 275.67,696.19 278.63,696.32 281.59,696.53 284.54,696.81 287.5,697.18 290.46,697.63 293.42,698.16 296.37,698.76 299.33,699.43 302.29,700.18 305.25,700.99 308.2,701.87 311.16,702.8 314.12,703.8 317.08,704.85 320.03,705.94 322.99,707.08 325.95,708.26 328.91,709.48 331.86,710.73 334.82,712 337.78,713.29 340.74,714.6 343.69,715.92 346.65,717.24"/>
<rect x="51.3" y="600.98" width="295.75" height="128.75" fill="none" stroke="#000" stroke-width="1.45"/>
<path d="M109.75,729.73v-4.7M109.75,600.98v3.3M169.2,729.73v-4.7M169.2,600.98v3.3M227.55,729.73v-4.7M227.55,600.98v3.3M287.2,729.73v-4.7M287.2,600.98v3.3" stroke="#000" stroke-width="1.45" fill="none"/>
<path d="M51.3,664.36h3.5M347.05,664.36h-4.8" stroke="#000" stroke-width="1.3" fill="none"/>
<text transform="translate(47.53,751.59) scale(1,1.3827) rotate(0.03)" x="0" y="0" font-size="14.3">0</text>
<text transform="translate(98.31,751.59) scale(1,1.3827) rotate(0.03)" x="0 11.75" y="0" font-size="14.3"><tspan textLength="9.94" lengthAdjust="spacingAndGlyphs" stroke-width="0.4">2</tspan>0</text>
<text transform="translate(159.26,751.59) scale(1,1.3827) rotate(0.03)" x="0 9.95" y="0" font-size="14.3">40</text>
<text transform="translate(218.41,751.59) scale(1,1.3827) rotate(0.03)" x="0 9.95" y="0" font-size="14.3">60</text>
<text transform="translate(277.56,751.59) scale(1,1.3827) rotate(0.03)" x="0 9.95" y="0" font-size="14.3">80</text>
<text transform="translate(333.33,751.59) scale(1,1.3827) rotate(0.03)" x="0 9.95 19.9" y="0" font-size="14.3" clip-path="url(#c0)"><tspan textLength="10.34" lengthAdjust="spacingAndGlyphs" stroke-width="0.45">1</tspan>00</text>
<text transform="translate(36.4,607.24) scale(1,1.3827) rotate(0.03)" x="0" y="0" font-size="14.3" clip-path="url(#c1)"><tspan textLength="10.34" lengthAdjust="spacingAndGlyphs" stroke-width="0.45">1</tspan></text>
<text transform="translate(36.4,670.52) scale(1,1.3827) rotate(0.03)" x="0" y="0" font-size="14.3">0</text>
<text transform="translate(29.8,735.99) scale(1,1.3827) rotate(0.03)" x="0 6.6" y="0" font-size="14.3" clip-path="url(#c2)"><tspan textLength="5.95" lengthAdjust="spacingAndGlyphs">-</tspan><tspan textLength="10.34" lengthAdjust="spacingAndGlyphs" stroke-width="0.45">1</tspan></text>
<text transform="translate(50.93,591.23) scale(1,1.3827) rotate(0.03)" x="0 9.87 15.44 25.94" y="0" font-size="14.3" clip-path="url(#c3)"><tspan font-size="12.3" textLength="9.35" lengthAdjust="spacingAndGlyphs">x</tspan> <tspan textLength="10.34" lengthAdjust="spacingAndGlyphs" stroke-width="0.45">1</tspan>0</text>
<text transform="translate(85.95,578.98) scale(1,1.28) rotate(0.03)" x="0" y="0" font-size="10.0">4</text>
<polyline fill="none" stroke="#1c1c7c" stroke-width="1.35" stroke-linejoin="round" points="443.86,612.43 446.82,613.09 449.77,613.75 452.73,614.39 455.69,615.03 458.65,615.65 461.6,616.26 464.56,616.85 467.52,617.42 470.48,617.97 473.43,618.49 476.39,618.99 479.35,619.46 482.31,619.9 485.26,620.3 488.22,620.68 491.18,621.01 494.14,621.31 497.09,621.58 500.05,621.8 503.01,621.99 505.97,622.13 508.92,622.23 511.88,622.3 514.84,622.32 517.79,622.3 520.75,622.23 523.71,622.13 526.67,621.99 529.62,621.8 532.58,621.58 535.54,621.31 538.5,621.01 541.46,620.68 544.41,620.3 547.37,619.9 550.33,619.46 553.28,618.99 556.24,618.49 559.2,617.97 562.16,617.42 565.12,616.85 568.07,616.26 571.03,615.65 573.99,615.03 576.95,614.39 579.9,613.75 582.86,613.09 585.82,612.43 588.77,611.77 591.73,716.58 594.69,715.92 597.65,715.27 600.61,714.62 603.56,713.98 606.52,713.36 609.48,712.75 612.44,712.16 615.39,711.59 618.35,711.04 621.31,710.52 624.26,710.02 627.22,709.55 630.18,709.12 633.14,708.71 636.1,708.34 639.05,708 642.01,707.7 644.97,707.44 647.93,707.21 650.88,707.03 653.84,706.88 656.8,706.78 659.75,706.72 662.71,706.7 665.67,706.72 668.63,706.78 671.59,706.88 674.54,707.03 677.5,707.21 680.46,707.44 683.41,707.7 686.37,708 689.33,708.34 692.29,708.71 695.25,709.12 698.2,709.55 701.16,710.02 704.12,710.52 707.07,711.04 710.03,711.59 712.99,712.16 715.95,712.75 718.9,713.36 721.86,713.98 724.82,714.62 727.78,715.27 730.74,715.92 733.69,716.58 736.65,717.24"/>
<rect x="441.3" y="600.98" width="295.75" height="128.75" fill="none" stroke="#000" stroke-width="1.45"/>
<path d="M499.75,729.73v-4.7M499.75,600.98v3.3M559.2,729.73v-4.7M559.2,600.98v3.3M617.55,729.73v-4.7M617.55,600.98v3.3M677.2,729.73v-4.7M677.2,600.98v3.3" stroke="#000" stroke-width="1.45" fill="none"/>
<path d="M441.3,664.36h3.5M737.05,664.36h-4.8" stroke="#000" stroke-width="1.3" fill="none"/>
<text transform="translate(437.53,751.59) scale(1,1.3827) rotate(0.03)" x="0" y="0" font-size="14.3">0</text>
<text transform="translate(488.31,751.59) scale(1,1.3827) rotate(0.03)" x="0 11.75" y="0" font-size="14.3"><tspan textLength="9.94" lengthAdjust="spacingAndGlyphs" stroke-width="0.4">2</tspan>0</text>
<text transform="translate(549.26,751.59) scale(1,1.3827) rotate(0.03)" x="0 9.95" y="0" font-size="14.3">40</text>
<text transform="translate(608.41,751.59) scale(1,1.3827) rotate(0.03)" x="0 9.95" y="0" font-size="14.3">60</text>
<text transform="translate(667.56,751.59) scale(1,1.3827) rotate(0.03)" x="0 9.95" y="0" font-size="14.3">80</text>
<text transform="translate(723.33,751.59) scale(1,1.3827) rotate(0.03)" x="0 9.95 19.9" y="0" font-size="14.3" clip-path="url(#c0)"><tspan textLength="10.34" lengthAdjust="spacingAndGlyphs" stroke-width="0.45">1</tspan>00</text>
<text transform="translate(425.2,607.24) scale(1,1.3827) rotate(0.03)" x="0" y="0" font-size="14.3"><tspan textLength="9.94" lengthAdjust="spacingAndGlyphs" stroke-width="0.4">2</tspan></text>
<text transform="translate(426.4,670.52) scale(1,1.3827) rotate(0.03)" x="0" y="0" font-size="14.3">0</text>
<text transform="translate(419.9,735.99) scale(1,1.3827) rotate(0.03)" x="0 5.3" y="0" font-size="14.3"><tspan textLength="5.95" lengthAdjust="spacingAndGlyphs">-</tspan><tspan textLength="9.94" lengthAdjust="spacingAndGlyphs" stroke-width="0.4">2</tspan></text>
<text transform="translate(440.93,591.23) scale(1,1.3827) rotate(0.03)" x="0 9.87 15.44 25.94" y="0" font-size="14.3" clip-path="url(#c3)"><tspan font-size="12.3" textLength="9.35" lengthAdjust="spacingAndGlyphs">x</tspan> <tspan textLength="10.34" lengthAdjust="spacingAndGlyphs" stroke-width="0.45">1</tspan>0</text>
<text transform="translate(475.95,578.98) scale(1,1.28) rotate(0.03)" x="0" y="0" font-size="10.0">4</text>
<polyline fill="none" stroke="#1c1c7c" stroke-width="1.35" stroke-linejoin="round" points="835.46,622.58 838.41,622.85 841.37,623.11 844.32,623.37 847.27,623.62 850.23,623.87 853.19,624.11 856.14,624.35 859.1,624.58 862.05,624.8 865,625.01 867.96,625.21 870.91,625.39 873.87,625.57 876.83,625.73 879.78,625.88 882.74,626.01 885.69,626.13 888.64,626.24 891.6,626.33 894.56,626.4 897.51,626.46 900.47,626.5 903.42,626.53 906.38,626.54 909.33,626.53 912.28,626.5 915.24,626.46 918.2,626.4 921.15,626.33 924.11,626.24 927.06,626.13 930.01,626.01 932.97,625.88 935.93,625.73 938.88,625.57 941.84,625.39 944.79,625.21 947.75,625.01 950.7,624.8 953.66,624.58 956.61,624.35 959.57,624.11 962.52,623.87 965.48,623.62 968.43,623.37 971.39,623.11 974.34,622.85 977.3,622.58 980.25,622.32 983.21,706.43 986.16,706.17 989.12,705.9 992.07,705.65 995.03,705.39 997.98,705.14 1000.94,704.9 1003.89,704.66 1006.85,704.43 1009.8,704.22 1012.76,704.01 1015.71,703.81 1018.67,703.62 1021.62,703.44 1024.58,703.28 1027.53,703.13 1030.48,703 1033.44,702.88 1036.39,702.77 1039.35,702.68 1042.3,702.61 1045.26,702.55 1048.21,702.51 1051.17,702.48 1054.12,702.48 1057.08,702.48 1060.03,702.51 1062.99,702.55 1065.94,702.61 1068.9,702.68 1071.86,702.77 1074.81,702.88 1077.76,703 1080.72,703.13 1083.67,703.28 1086.63,703.44 1089.59,703.62 1092.54,703.81 1095.49,704.01 1098.45,704.22 1101.4,704.43 1104.36,704.66 1107.32,704.9 1110.27,705.14 1113.22,705.39 1116.18,705.65 1119.13,705.9 1122.09,706.17 1125.05,706.43 1128,706.69"/>
<rect x="832.9" y="600.98" width="295.5" height="128.75" fill="none" stroke="#000" stroke-width="1.45"/>
<path d="M891.3,729.73v-4.7M891.3,600.98v3.3M950.7,729.73v-4.7M950.7,600.98v3.3M1009,729.73v-4.7M1009,600.98v3.3M1068.6,729.73v-4.7M1068.6,600.98v3.3" stroke="#000" stroke-width="1.45" fill="none"/>
<path d="M832.9,664.36h3.5M1128.4,664.36h-4.8" stroke="#000" stroke-width="1.3" fill="none"/>
<text transform="translate(829.13,751.59) scale(1,1.3827) rotate(0.03)" x="0" y="0" font-size="14.3">0</text>
<text transform="translate(879.86,751.59) scale(1,1.3827) rotate(0.03)" x="0 11.75" y="0" font-size="14.3"><tspan textLength="9.94" lengthAdjust="spacingAndGlyphs" stroke-width="0.4">2</tspan>0</text>
<text transform="translate(940.76,751.59) scale(1,1.3827) rotate(0.03)" x="0 9.95" y="0" font-size="14.3">40</text>
<text transform="translate(999.86,751.59) scale(1,1.3827) rotate(0.03)" x="0 9.95" y="0" font-size="14.3">60</text>
<text transform="translate(1058.96,751.59) scale(1,1.3827) rotate(0.03)" x="0 9.95" y="0" font-size="14.3">80</text>
<text transform="translate(1114.68,751.59) scale(1,1.3827) rotate(0.03)" x="0 9.95 19.9" y="0" font-size="14.3" clip-path="url(#c0)"><tspan textLength="10.34" lengthAdjust="spacingAndGlyphs" stroke-width="0.45">1</tspan>00</text>
<text transform="translate(818,607.24) scale(1,1.3827) rotate(0.03)" x="0" y="0" font-size="14.3">5</text>
<text transform="translate(818,670.52) scale(1,1.3827) rotate(0.03)" x="0" y="0" font-size="14.3">0</text>
<text transform="translate(811.4,735.99) scale(1,1.3827) rotate(0.03)" x="0 6.6" y="0" font-size="14.3"><tspan textLength="5.95" lengthAdjust="spacingAndGlyphs">-</tspan>5</text>
<text transform="translate(832.53,591.23) scale(1,1.3827) rotate(0.03)" x="0 9.87 15.44 25.94" y="0" font-size="14.3" clip-path="url(#c3)"><tspan font-size="12.3" textLength="9.35" lengthAdjust="spacingAndGlyphs">x</tspan> <tspan textLength="10.34" lengthAdjust="spacingAndGlyphs" stroke-width="0.45">1</tspan>0</text>
<text transform="translate(867.55,578.98) scale(1,1.28) rotate(0.03)" x="0" y="0" font-size="10.0">4</text>
<polyline fill="none" stroke="#1c1c7c" stroke-width="1.35" stroke-linejoin="round" points="1225.35,667.16 1228.31,669.8 1231.26,672.41 1234.22,675 1237.17,677.55 1240.13,680.05 1243.08,682.48 1246.04,684.83 1248.99,687.11 1251.95,689.3 1254.9,691.4 1257.86,693.4 1260.81,695.26 1263.77,697.01 1266.72,698.64 1269.68,700.13 1272.63,701.48 1275.59,702.68 1278.54,703.74 1281.5,704.64 1284.45,705.37 1287.41,705.95 1290.36,706.36 1293.32,706.62 1296.27,706.7 1299.23,706.62 1302.18,706.36 1305.14,705.95 1308.09,705.37 1311.05,704.64 1314,703.74 1316.96,702.68 1319.91,701.48 1322.87,700.13 1325.82,698.64 1328.78,697.01 1331.73,695.26 1334.69,693.4 1337.64,691.4 1340.6,689.3 1343.55,687.11 1346.51,684.83 1349.46,682.48 1352.42,680.05 1355.37,677.55 1358.33,675 1361.28,672.41 1364.24,669.8 1367.19,667.16 1370.15,664.52 1373.1,661.87 1376.06,659.23 1379.01,656.61 1381.97,654.02 1384.92,651.48 1387.88,648.98 1390.83,646.54 1393.79,644.19 1396.74,641.91 1399.7,639.72 1402.65,637.62 1405.61,635.63 1408.56,633.76 1411.52,632.01 1414.47,630.39 1417.43,628.89 1420.38,627.54 1423.34,626.34 1426.29,625.29 1429.25,624.39 1432.2,623.65 1435.16,623.07 1438.11,622.66 1441.07,622.4 1444.02,622.33 1446.98,622.4 1449.93,622.66 1452.89,623.07 1455.84,623.65 1458.8,624.39 1461.75,625.29 1464.71,626.34 1467.66,627.54 1470.62,628.89 1473.57,630.39 1476.53,632.01 1479.48,633.76 1482.44,635.63 1485.39,637.62 1488.35,639.72 1491.3,641.91 1494.26,644.19 1497.21,646.54 1500.17,648.98 1503.12,651.48 1506.08,654.02 1509.03,656.61 1511.99,659.23 1514.94,661.87 1517.9,664.5"/>
<rect x="1222.8" y="600.98" width="295.5" height="128.75" fill="none" stroke="#000" stroke-width="1.45"/>
<path d="M1281.2,729.73v-4.7M1281.2,600.98v3.3M1340.6,729.73v-4.7M1340.6,600.98v3.3M1398.9,729.73v-4.7M1398.9,600.98v3.3M1458.5,729.73v-4.7M1458.5,600.98v3.3" stroke="#000" stroke-width="1.45" fill="none"/>
<path d="M1222.8,664.36h3.5M1518.3,664.36h-4.8" stroke="#000" stroke-width="1.3" fill="none"/>
<text transform="translate(1219.03,751.59) scale(1,1.3827) rotate(0.03)" x="0" y="0" font-size="14.3">0</text>
<text transform="translate(1269.76,751.59) scale(1,1.3827) rotate(0.03)" x="0 11.75" y="0" font-size="14.3"><tspan textLength="9.94" lengthAdjust="spacingAndGlyphs" stroke-width="0.4">2</tspan>0</text>
<text transform="translate(1330.66,751.59) scale(1,1.3827) rotate(0.03)" x="0 9.95" y="0" font-size="14.3">40</text>
<text transform="translate(1389.76,751.59) scale(1,1.3827) rotate(0.03)" x="0 9.95" y="0" font-size="14.3">60</text>
<text transform="translate(1448.86,751.59) scale(1,1.3827) rotate(0.03)" x="0 9.95" y="0" font-size="14.3">80</text>
<text transform="translate(1504.58,751.59) scale(1,1.3827) rotate(0.03)" x="0 9.95 19.9" y="0" font-size="14.3" clip-path="url(#c0)"><tspan textLength="10.34" lengthAdjust="spacingAndGlyphs" stroke-width="0.45">1</tspan>00</text>
<text transform="translate(1178.5,607.24) scale(1,1.3827) rotate(0.03)" x="0 9.8 19.6 29.4" y="0" font-size="14.3">5000</text>
<text transform="translate(1207.9,670.52) scale(1,1.3827) rotate(0.03)" x="0" y="0" font-size="14.3">0</text>
<text transform="translate(1171.9,735.99) scale(1,1.3827) rotate(0.03)" x="0 6.6 16.4 26.2 36" y="0" font-size="14.3"><tspan textLength="5.95" lengthAdjust="spacingAndGlyphs">-</tspan>5000</text>
</svg>
</body></html>
